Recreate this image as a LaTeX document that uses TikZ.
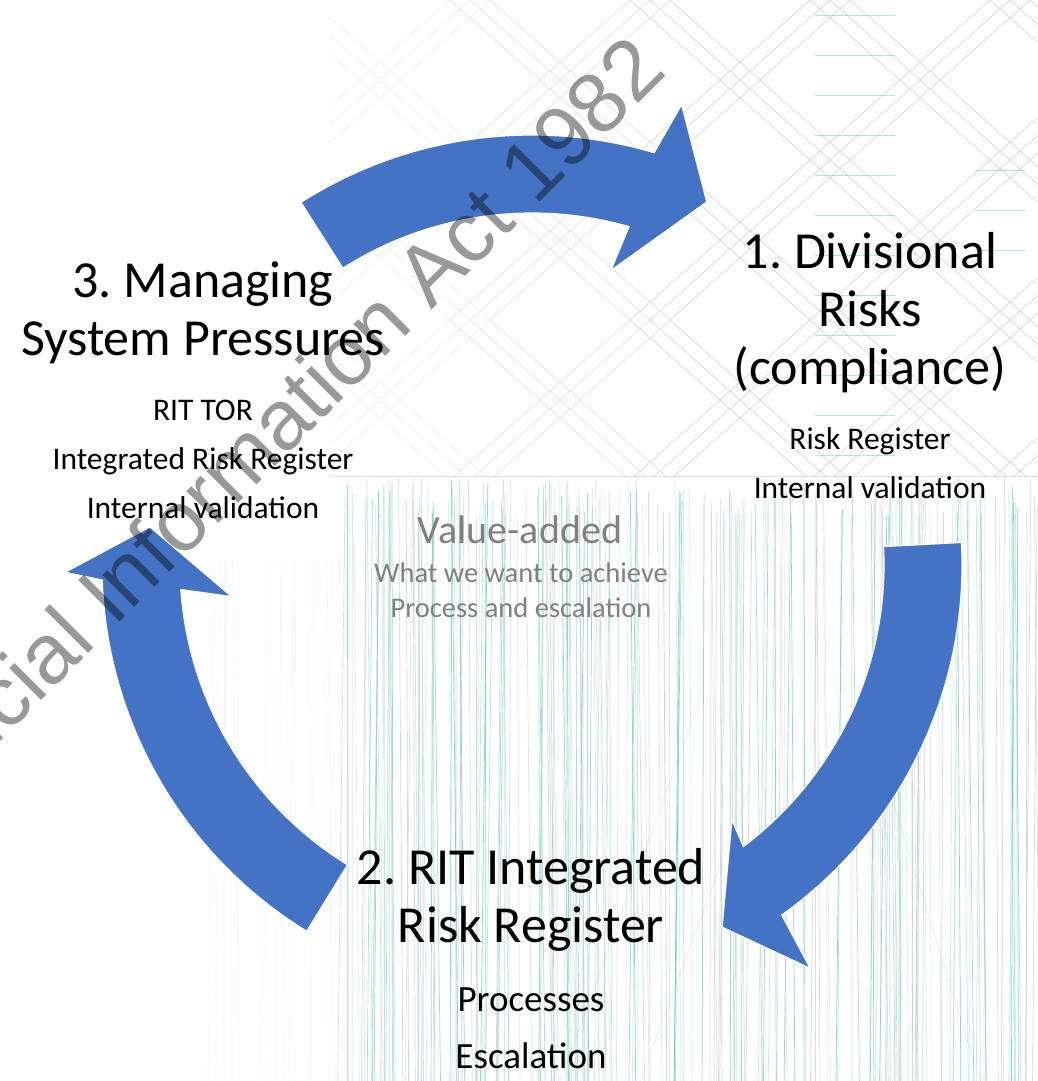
\documentclass[tikz,border=0pt]{standalone}
\usepackage{fontspec}
\setmainfont{Carlito}
\newfontfamily\markfont{Liberation Sans}
\usepackage{xcolor}
\definecolor{cycleblue}{HTML}{4472C4}
\definecolor{tealline}{HTML}{5FC2B0}
\definecolor{greyline}{HTML}{B4BABC}
\definecolor{softgrey}{HTML}{808080}
\frenchspacing

\begin{document}
\begin{tikzpicture}[x=1pt,y=-1pt]
\tikzstyle{title} = [align=center, font=\fontsize{52}{58}\selectfont, inner sep=0pt]
\tikzstyle{items} = [align=center, font=\fontsize{31.5}{49}\selectfont, inner sep=0pt]
\tikzstyle{bigitems} = [align=center, font=\fontsize{37}{57}\selectfont, inner sep=0pt]
\tikzstyle{middle} = [align=center, text=softgrey, inner sep=0pt]
\tikzstyle{cyclearrow} = [fill=cycleblue, draw=white, line width=1.2pt]
\tikzstyle{zigzag} = [draw=greyline, line width=0.8pt]
\tikzstyle{fringe} = [line width=0.7pt]

\useasboundingbox (0,0) rectangle (1038,1081);
\clip (0,0) rectangle (1038,1081);
\fill[white] (0,0) rectangle (1038,1081);

% background, upper band
\begin{scope}
\clip (330,0) rectangle (1038,476);
\foreach \gx/\zop in {450/0.2,630/0.35,810/0.5,990/0.5,1170/0.5} {
  \foreach \k in {0,20,40} {
    \draw[zigzag, opacity=\zop] (\gx+\k,0) \foreach \j in {1,...,3} { -- (\gx+\k-90,\j*160-80) -- (\gx+\k,\j*160) };
    \draw[zigzag, opacity=\zop] (\gx+\k-180,0) \foreach \j in {1,...,3} { -- (\gx+\k-90,\j*160-80) -- (\gx+\k-180,\j*160) };
  }
}
\foreach \yy in {15,55,...,455} \draw[tealline, opacity=0.45] (815,\yy) -- (895,\yy);
\foreach \yy in {170,210,250} \draw[tealline, opacity=0.45] (975,\yy) -- (1025,\yy);
\end{scope}
\draw[greyline, opacity=0.4] (330,476) -- (1038,476);

% background, lower band
\pgfmathsetseed{12}
\foreach \i in {1,...,120} {
  \pgfmathsetmacro\xx{340+698*rnd}
  \pgfmathsetmacro\ytop{476+40*rnd}
  \pgfmathsetmacro\lineop{0.2+0.5*rnd}
  \draw[fringe, tealline, opacity=\lineop] (\xx,\ytop) -- (\xx+8*rand,1081);
}
\foreach \i in {1,...,90} {
  \pgfmathsetmacro\xx{340+698*rnd}
  \pgfmathsetmacro\ytop{476+40*rnd}
  \pgfmathsetmacro\lineop{0.2+0.4*rnd}
  \draw[fringe, greyline, opacity=\lineop] (\xx,\ytop) -- (\xx+8*rand,1081);
}
\foreach \i in {1,...,20} {
  \pgfmathsetmacro\xx{200+140*rnd}
  \pgfmathsetmacro\lineop{0.04+0.08*rnd}
  \draw[fringe, tealline, opacity=\lineop] (\xx,560) -- (\xx+8*rand,1081);
}
\draw[greyline, opacity=0.4] (560,1081) -- (700,700) (640,1081) -- (760,760) (980,1081) -- (880,760);

% cycle arrows
\begin{scope}[shift={(532,565)}, yscale=-1]
% 3 -> 1
\draw[cyclearrow] (122.5:430) arc[start angle=122.5, end angle=73.5, radius=430]
  -- (72:484) -- (64.3:403) -- (75:305) -- (74:352)
  arc[start angle=74, end angle=122.5, radius=352] -- cycle;
% 1 -> 2
\draw[cyclearrow] (3:430) arc[start angle=3, end angle=-54.5, radius=430]
  -- (-55.4:490) -- (-62.3:409) -- (-51.9:324) -- (-53.1:352)
  arc[start angle=-53.1, end angle=3, radius=352] -- cycle;
% 2 -> 3
\draw[cyclearrow] (238.4:430) arc[start angle=238.4, end angle=182, radius=430]
  -- (180.9:467) -- (174.3:384) -- (186:302) -- (184:352)
  arc[start angle=184, end angle=238.4, radius=352] -- cycle;
\end{scope}

% stages (base = last line)
\node[title, anchor=base] (divisional) at (870,384) {1. Divisional\\Risks\\(compliance)};
\node[items, anchor=base] (divisionalitems) at (870,498) {Risk Register\\Internal validation};
\node[title, anchor=base] (integrated) at (531,942) {2. RIT Integrated\\Risk Register};
\node[bigitems, anchor=base] (integrateditems) at (531,1068) {Processes\\Escalation};
\node[title, anchor=base] (managing) at (203,355) {3. Managing\\System Pressures};
\node[items, anchor=base] (managingitems) at (203,518) {RIT TOR\\Integrated Risk Register\\Internal validation};

% centre
\node[middle, anchor=base, font=\fontsize{40}{40}\selectfont] (valueadded) at (520,543) {Value-added};
\node[middle, anchor=base, font=\fontsize{28.5}{35}\selectfont] (valueitems) at (521,617) {What we want to achieve\\Process and escalation};

% watermark
\node[rotate=45, anchor=base east, inner sep=0pt, text=black, text opacity=0.4,
  font=\markfont\fontsize{85}{85}\selectfont] (watermark) at (669,73) {Official Information Act 1982};
\end{tikzpicture}
\end{document}
